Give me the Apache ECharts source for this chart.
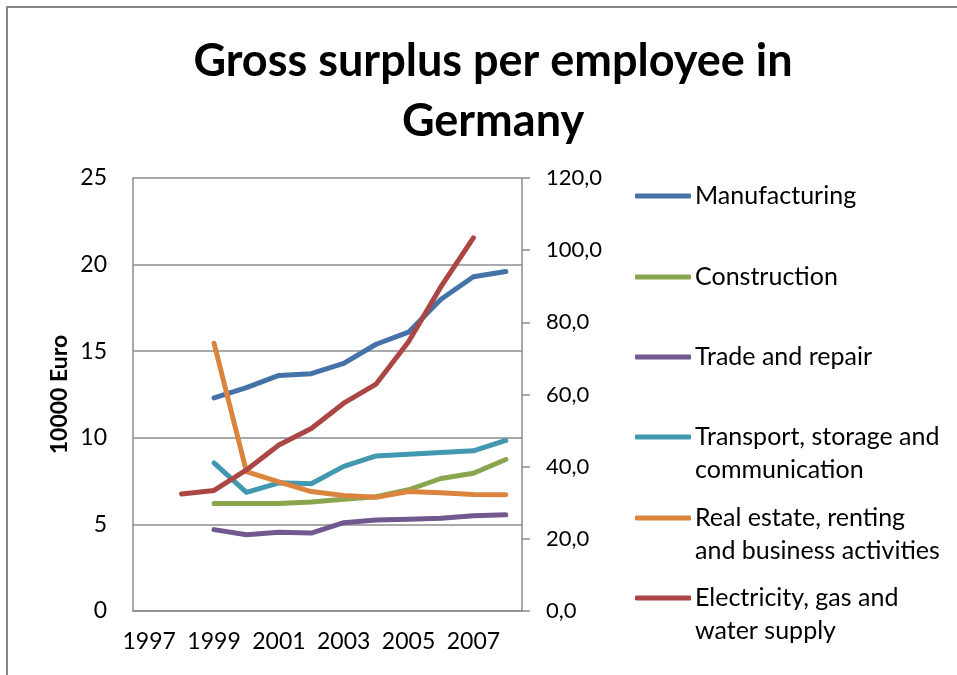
<!DOCTYPE html>
<html>
<head>
<meta charset="utf-8">
<script src="https://cdn.jsdelivr.net/npm/echarts@6/dist/echarts.min.js"></script>
<style>
  html, body { margin: 0; padding: 0; background: #fff; }
  #chart { width: 957px; height: 675px; }
</style>
</head>
<body>
<div id="chart"></div>
<script>
// years on the x axis
const years = ['1997', '1998', '1999', '2000', '2001', '2002', '2003', '2004', '2005', '2006', '2007', '2008']

// left axis (10000 Euro)
const manufacturing = [null, null, 12.3, 12.9, 13.6, 13.7, 14.3, 15.4, 16.1, 18.0, 19.3, 19.6]
const construction = [null, null, 6.2, 6.2, 6.2, 6.3, 6.45, 6.6, 7.0, 7.65, 7.95, 8.75]
const tradeRepair = [null, null, 4.7, 4.4, 4.55, 4.5, 5.1, 5.25, 5.3, 5.35, 5.5, 5.55]
const transport = [null, null, 8.55, 6.85, 7.4, 7.35, 8.35, 8.95, 9.05, 9.15, 9.25, 9.85]
// right axis
const realEstate = [null, null, 74.2, 38.6, 35.8, 33.1, 32.0, 31.5, 33.1, 32.8, 32.3, 32.2]
const electricity = [null, 32.4, 33.4, 39.1, 46.0, 50.6, 57.6, 62.9, 74.6, 89.9, 103.4, null]

const leftTicks = [0, 5, 10, 15, 20, 25]
const rightTicks = [0, 20, 40, 60, 80, 100, 120]

const names = ['Manufacturing', 'Construction', 'Trade and repair',
  'Transport, storage and\ncommunication', 'Real estate, renting\nand business activities',
  'Electricity, gas and\nwater supply']
const colors = ['#4572A7', '#89A54E', '#71588F', '#4198AF', '#DB843D', '#AA4643']
const values = [manufacturing, construction, tradeRepair, transport, realEstate, electricity]
const onRight = [false, false, false, false, true, true]

const font = 'Lato, "Open Sans", sans-serif'
const chart = echarts.init(document.getElementById('chart'))

let series = names.map((n, i) => ({
  name: n,
  type: 'line',
  yAxisIndex: onRight[i] ? 1 : 0,
  data: values[i],
  symbol: 'none',
  connectNulls: false,
  lineStyle: { width: 5, color: colors[i], cap: 'round', join: 'round' },
  itemStyle: { color: colors[i] }
}))

// one legend per item; two-line names get an empty first line
// so the icon lines up with the first text line
const iconCenters = [196, 277, 357, 437, 518, 598]
const lh = 33
let legends = names.map((n, i) => {
  let twoLines = n.indexOf('\n') > 0
  return {
    data: [{ name: n, icon: 'roundRect' }],
    left: 635,
    top: iconCenters[i] - (twoLines ? lh * 1.5 : lh / 2),
    padding: 0,
    itemWidth: 56,
    itemHeight: 5,
    itemGap: 0,
    selectedMode: false,
    formatter: name => (name.indexOf('\n') > 0 ? '\n' + name : name),
    textStyle: { fontFamily: font, fontSize: 25, color: '#000', lineHeight: lh, padding: [0, 0, 0, -1] }
  }
})

let option = {
  backgroundColor: '#fff',
  animation: false,
  title: {
    text: 'Gross surplus per employee in\nGermany',
    left: 488,
    top: 26,
    textAlign: 'center',
    textStyle: { fontFamily: font, fontSize: 45, fontWeight: 'bold', color: '#000', lineHeight: 60 }
  },
  legend: legends,
  grid: { left: 133, right: 435, top: 178, bottom: 64, containLabel: false, show: false },
  graphic: [{
    type: 'rect',
    shape: { x: 7, y: 7, width: 1000, height: 1000 },
    style: { fill: null, stroke: '#878787', lineWidth: 2 },
    silent: true
  }],
  xAxis: {
    type: 'category',
    data: years,
    boundaryGap: true,
    axisLine: { lineStyle: { color: '#8c8c8c', width: 1.5 } },
    axisTick: { show: false },
    axisLabel: { interval: 1, fontFamily: font, fontSize: 23, color: '#000', margin: 19 }
  },
  yAxis: [{
    type: 'value',
    min: leftTicks[0],
    max: leftTicks[leftTicks.length - 1],
    interval: 5,
    name: '10000 Euro',
    nameLocation: 'middle',
    nameGap: 62,
    nameRotate: 90,
    nameTextStyle: { fontFamily: font, fontSize: 23, fontWeight: 'bold', color: '#000' },
    axisLine: { show: true, lineStyle: { color: '#8c8c8c', width: 1.5 } },
    axisTick: { show: false },
    splitLine: { lineStyle: { color: '#8c8c8c', width: 1.5 } },
    axisLabel: { fontFamily: font, fontSize: 23, color: '#000', margin: 26 }
  }, {
    type: 'value',
    position: 'right',
    min: rightTicks[0],
    max: rightTicks[rightTicks.length - 1],
    interval: 20,
    axisLine: { show: true, lineStyle: { color: '#8c8c8c', width: 1.5 } },
    axisTick: { show: true, length: 8, lineStyle: { color: '#8c8c8c', width: 1.5 } },
    splitLine: { show: false },
    axisLabel: {
      fontFamily: font, fontSize: 22, color: '#000', margin: 24,
      formatter: v => v.toFixed(1).replace('.', ',')
    }
  }],
  series: series
}
chart.setOption(option)
</script>
</body>
</html>
